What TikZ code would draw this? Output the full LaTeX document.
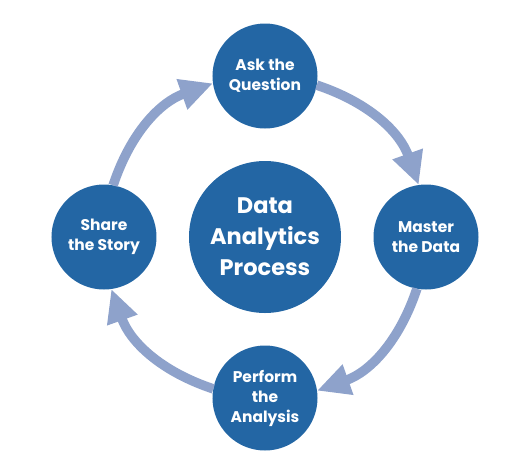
\documentclass[tikz,border=0pt]{standalone}
\usepackage{fontspec}
\setmainfont{Poppins}
\usetikzlibrary{positioning, arrows.meta}
\definecolor{stepblue}{RGB}{35,102,164}
\definecolor{ringblue}{RGB}{142,162,203}

\begin{document}
\begin{tikzpicture}[x=1pt, y=1pt,
  stage/.style={circle, fill=stepblue, text=white, inner sep=0pt, outer sep=0pt, minimum size=105pt, align=center, font=\fontsize{15.5}{20}\selectfont\bfseries},
  hub/.style={circle, fill=stepblue, text=white, inner sep=0pt, outer sep=0pt, minimum size=152pt, align=center, font=\fontsize{22.5}{31}\selectfont\bfseries},
  cyclearrow/.style={draw=ringblue, line width=9.5pt, -{Triangle[length=33pt, width=30pt]}}]

\useasboundingbox (-265,-222) rectangle (254,237);

% Stages

\node [hub] (process) at (0,0) {Data\\Analytics\\Process};
\node [stage, above=32.5pt of process] (question) {Ask the\\Question};
\node [stage, right=32.5pt of process] (master) {Master\\the Data};
\node [stage, below=32.5pt of process] (analysis) {Perform\\the\\Analysis};
\node [stage, left=32.5pt of process] (story) {Share\\the Story};

% Cycle

\draw[cyclearrow] (question.-10) to[bend left=26] (master.98);

\draw[cyclearrow] (master.-100) to[bend left=26] (analysis.8);

\draw[cyclearrow] (analysis.170) to[bend left=26] (story.-82);

\draw[cyclearrow] (story.80) to[bend left=26] (question.188);

\end{tikzpicture}
\end{document}
